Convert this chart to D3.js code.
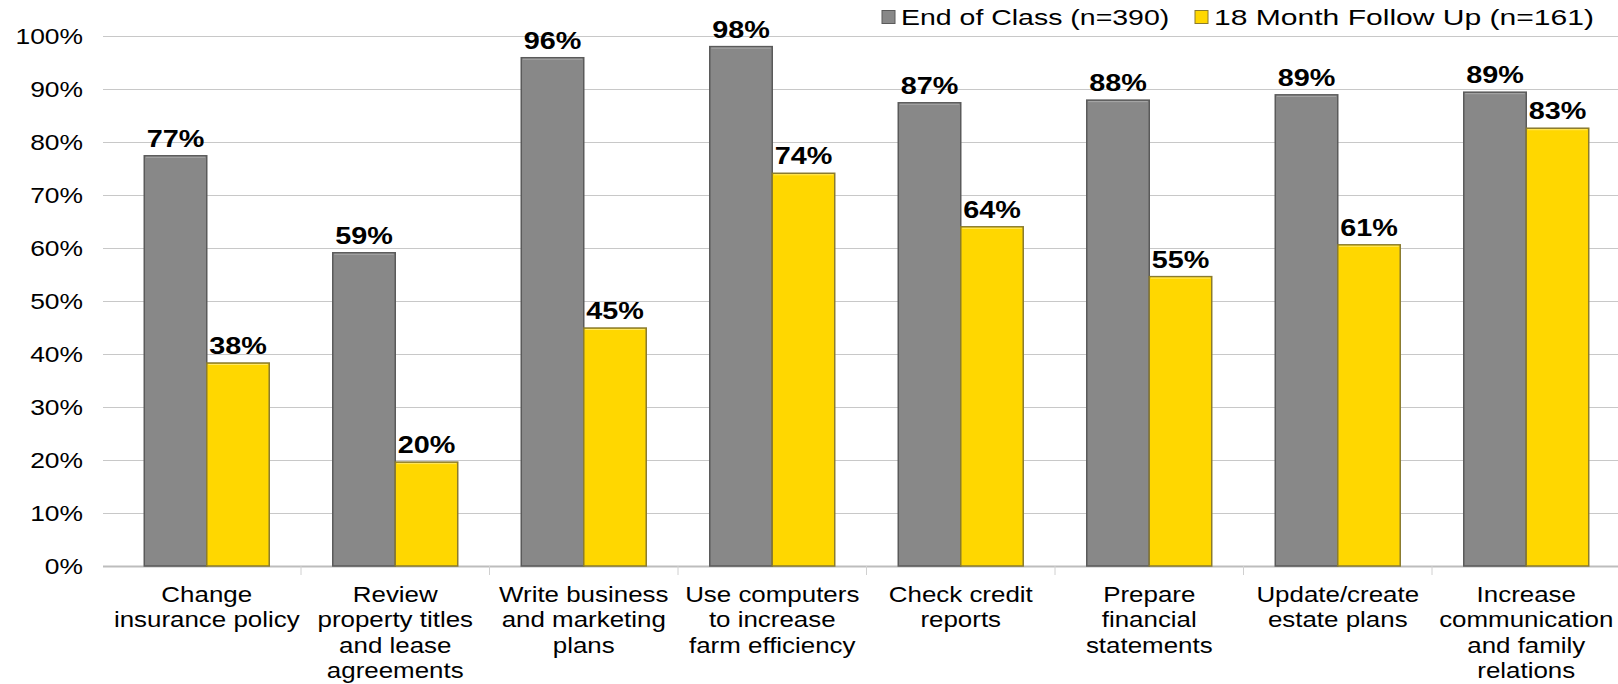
<!DOCTYPE html>
<html>
<head>
<meta charset="utf-8">
<script src="https://cdn.jsdelivr.net/npm/d3@7"></script>
<style>
  html, body { margin: 0; padding: 0; background: #fff; }
  svg { display: block; font-family: "Liberation Sans", Arial, sans-serif; }
</style>
</head>
<body>
<svg id="chart" width="1618" height="684"></svg>
<script>
const categories = [
  ["Change", "insurance policy"],
  ["Review", "property titles", "and lease", "agreements"],
  ["Write business", "and marketing", "plans"],
  ["Use computers", "to increase", "farm efficiency"],
  ["Check credit", "reports"],
  ["Prepare", "financial", "statements"],
  ["Update/create", "estate plans"],
  ["Increase", "communication", "and family", "relations"]
];
const seriesNames = ["End of Class (n=390)", "18 Month Follow Up (n=161)"];
const endOfClass = [77.4, 59.1, 95.9, 98.0, 87.4, 87.9, 88.9, 89.4];
const followUp   = [38.3, 19.6, 44.9, 74.1, 64.0, 54.6, 60.6, 82.6];
const yTicks = [0, 10, 20, 30, 40, 50, 60, 70, 80, 90, 100];

const fills = ["#888888", "#FFD700"];
const strokes = ["#5a5a5a", "#8a7b2e"];
const SX = 1.2; // horizontal stretch of the reference text
const legendSX = [1.295, 1.367];

const svg = d3.select("#chart");
const catKeys = categories.map((c, i) => "c" + i);
const x0 = d3.scaleBand().domain(catKeys).range([112.5, 1620.5])
  .paddingInner(0.337).paddingOuter(0.1685);
const x1 = d3.scaleBand().domain([0, 1]).range([0, x0.bandwidth()]);
const y = d3.scaleLinear().domain([0, 100]).range([566, 36]);
const step = x0.step();

// gridlines
svg.append("g").selectAll("line").data(yTicks.filter(t => t > 0)).join("line")
  .attr("x1", 103).attr("x2", 1618)
  .attr("y1", d => y(d) + 0.5).attr("y2", d => y(d) + 0.5)
  .attr("stroke", "#c8c8c8").attr("stroke-width", 1);

// baseline
svg.append("line").attr("x1", 103).attr("x2", 1618)
  .attr("y1", y(0) + 0.5).attr("y2", y(0) + 0.5)
  .attr("stroke", "#bdbdbd").attr("stroke-width", 2);

// category separator ticks
svg.append("g").selectAll("line").data(d3.range(1, catKeys.length + 1)).join("line")
  .attr("x1", d => 112.5 + d * step).attr("x2", d => 112.5 + d * step)
  .attr("y1", y(0)).attr("y2", y(0) + 9)
  .attr("stroke", "#d0d0d0").attr("stroke-width", 1);

// y tick labels
svg.append("g").selectAll("text").data(yTicks).join("text")
  .attr("transform", d => `translate(83,${y(d) + 8}) scale(${SX},1)`)
  .attr("text-anchor", "end")
  .attr("font-size", 22)
  .attr("fill", "#000")
  .text(d => d + "%");

// bars
const seriesData = [endOfClass, followUp];
const fmt = d3.format(".0f");
seriesData.forEach((vals, s) => {
  const g = svg.append("g");
  g.selectAll("rect").data(vals).join("rect")
    .attr("x", (d, i) => x0(catKeys[i]) + x1(s))
    .attr("y", d => y(d))
    .attr("width", x1.bandwidth())
    .attr("height", d => y(0) - y(d))
    .attr("fill", fills[s])
    .attr("stroke", strokes[s])
    .attr("stroke-width", 1.5);
  // light top bevel
  g.selectAll("line.hl").data(vals).join("line")
    .attr("class", "hl")
    .attr("x1", (d, i) => x0(catKeys[i]) + x1(s) + 1.5)
    .attr("x2", (d, i) => x0(catKeys[i]) + x1(s) + x1.bandwidth() - 1.5)
    .attr("y1", d => y(d) + 1.5).attr("y2", d => y(d) + 1.5)
    .attr("stroke", s === 0 ? "#a8a8a8" : "#ffe866").attr("stroke-width", 1);
  g.selectAll("text").data(vals).join("text")
    .attr("transform", (d, i) =>
      `translate(${x0(catKeys[i]) + x1(s) + x1.bandwidth() / 2},${y(d) - 9}) scale(${SX},1)`)
    .attr("text-anchor", "middle")
    .attr("font-size", 24)
    .attr("font-weight", "bold")
    .attr("fill", "#000")
    .text(d => fmt(d) + "%");
});

// category labels
const catG = svg.append("g");
categories.forEach((lines, i) => {
  const cx = x0(catKeys[i]) + x0.bandwidth() / 2;
  lines.forEach((ln, j) => {
    catG.append("text")
      .attr("transform", `translate(${cx},${602 + j * 25.3}) scale(${SX},1)`)
      .attr("text-anchor", "middle")
      .attr("font-size", 21.6)
      .attr("fill", "#000")
      .text(ln);
  });
});

// legend
const legendX = [882, 1195];
seriesNames.forEach((name, s) => {
  svg.append("rect")
    .attr("x", legendX[s]).attr("y", 10.5).attr("width", 13).attr("height", 13)
    .attr("fill", fills[s]).attr("stroke", strokes[s]).attr("stroke-width", 1);
  svg.append("text")
    .attr("transform", `translate(${legendX[s] + 19},25) scale(${legendSX[s]},1)`)
    .attr("font-size", 22)
    .attr("fill", "#000")
    .text(name);
});
</script>
</body>
</html>
